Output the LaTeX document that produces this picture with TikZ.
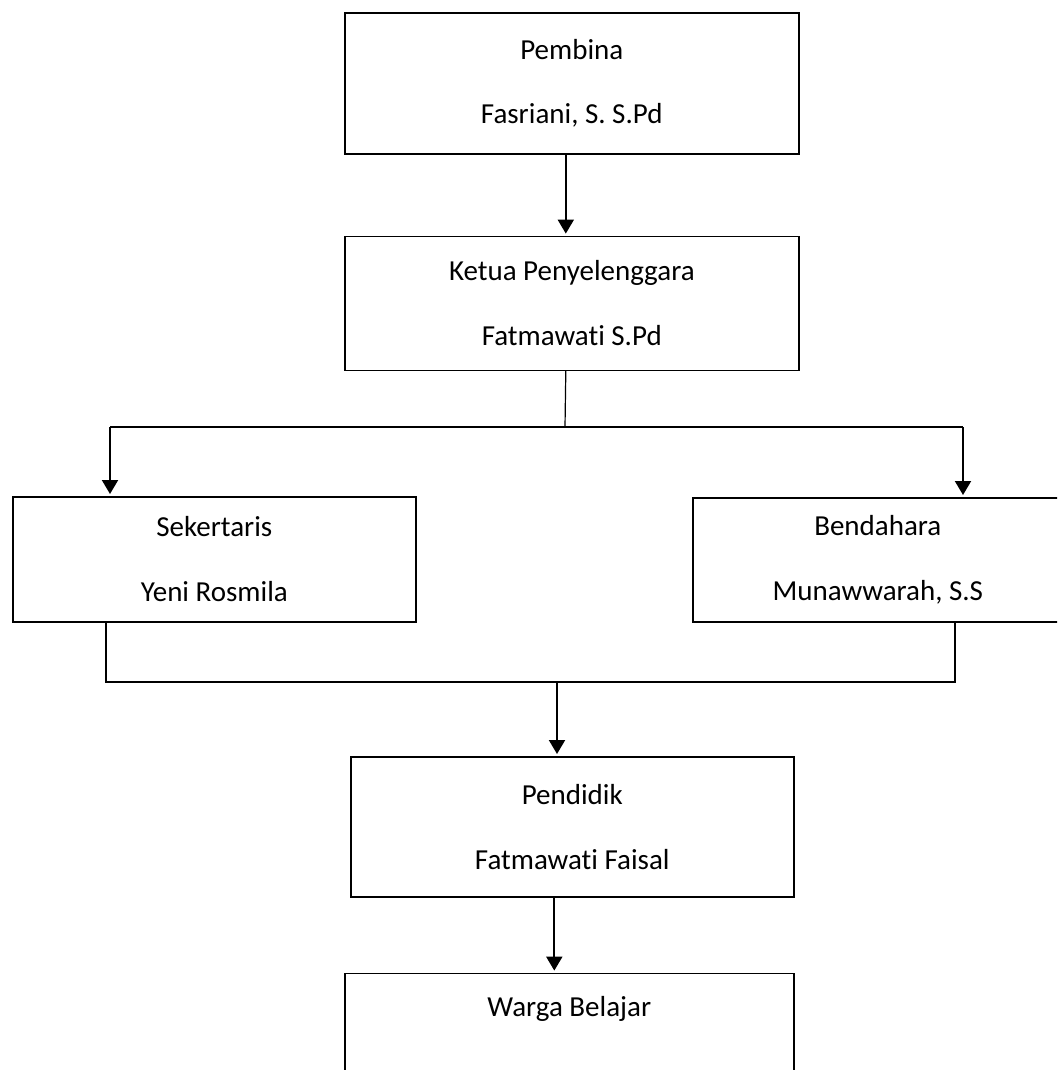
\documentclass[tikz,border=0pt]{standalone}
\usepackage{fontspec}
\setmainfont[RawFeature={-liga,-clig,-calt,-dlig}]{Carlito}
\usetikzlibrary{positioning,arrows.meta}

\begin{document}
\begin{tikzpicture}[
    x=0.5pt, y=-0.5pt,
    node distance=40.5pt,
    orgbox/.style={draw, line width=0.8pt, align=center, inner sep=0pt,
        font=\fontsize{14.5}{17.4}\selectfont},
    link/.style={line width=0.6pt},
    arrow/.style={line width=1pt, shorten >=1pt, -{Triangle[width=8pt,length=7pt]}}
]
\useasboundingbox (0,0) rectangle (1057,1070);
\clip (0,0) rectangle (1057,1070);

\node[orgbox, anchor=north west, minimum width=227pt, minimum height=70.5pt] (pembina) at (344,12) {Pembina\\[15pt]Fasriani, S. S.Pd};
\node[orgbox, below=of pembina, minimum width=227pt, minimum height=67pt] (ketua) {Ketua Penyelenggara\\[15pt]Fatmawati S.Pd};

\node[orgbox, anchor=north west, minimum width=201.5pt, minimum height=62.5pt] (sekertaris) at (12,496) {Sekertaris\\[15pt]Yeni Rosmila};
\node[orgbox, anchor=north west, minimum width=185pt, minimum height=62pt] (bendahara) at (692,497) {Bendahara\\[15pt]Munawwarah, S.S};

\node[orgbox, anchor=north west, minimum width=221.5pt, minimum height=70pt] (pendidik) at (350,756) {Pendidik\\[15pt]Fatmawati Faisal};
\node[orgbox, below=37.5pt of pendidik, xshift=-1.5pt, minimum width=224.5pt, minimum height=70.5pt] (warga) {Warga Belajar\\[15pt]\strut};

% ketua ke sekertaris dan bendahara
\coordinate (split) at (565,427);
\coordinate (sekhook) at (110,427);
\coordinate (benhook) at (963,427);
% sekertaris dan bendahara ke pendidik
\coordinate (sekfoot) at (106,682);
\coordinate (benfoot) at (955,682);
\coordinate (merge) at (557,682);

\draw[arrow] ([xshift=-3pt]pembina.south) -- ([xshift=-3pt]ketua.north);
\draw[link] ([xshift=-3pt]ketua.south) -- (split);
\draw[link] (sekhook) -- (benhook);
\draw[arrow] (sekhook) -- (sekhook |- sekertaris.north);
\draw[arrow] (benhook) -- (benhook |- bendahara.north);

\draw[link] (sekfoot |- sekertaris.south) -- (sekfoot) -- (benfoot) -- (benfoot |- bendahara.south);
\draw[arrow] (merge) -- (merge |- pendidik.north);
\draw[arrow] ([xshift=-9pt]pendidik.south) -- ([xshift=-9pt]pendidik.south |- warga.north);
\end{tikzpicture}
\end{document}
